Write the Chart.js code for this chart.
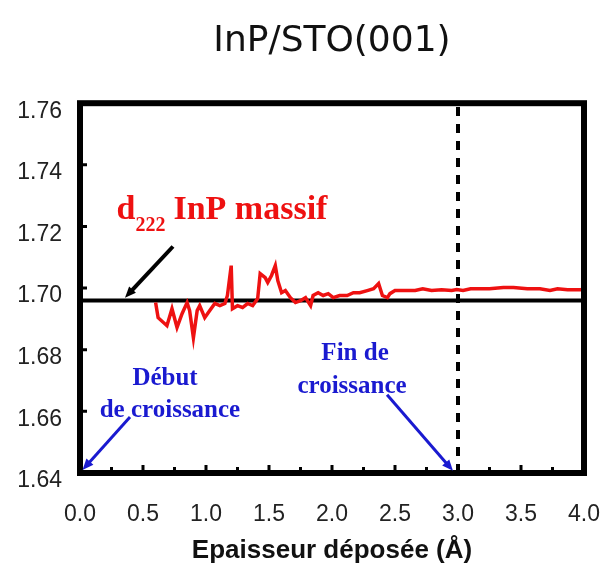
<!DOCTYPE html>
<html>
<head>
<meta charset="utf-8">
<script src="https://cdn.jsdelivr.net/npm/chart.js@4"></script>
<style>
  html, body { margin: 0; padding: 0; background: #fff; }
  #wrap { width: 608px; height: 569px; }
</style>
</head>
<body>
<div id="wrap"><canvas id="dChart" width="608" height="569"></canvas></div>
<script>
const thickness = [0.60, 0.62, 0.69, 0.73, 0.77, 0.81, 0.85, 0.87, 0.90, 0.93, 0.95, 0.99,
  1.03, 1.07, 1.11, 1.15, 1.17, 1.20, 1.21, 1.25, 1.29, 1.33, 1.37, 1.41, 1.43, 1.47, 1.49,
  1.52, 1.55, 1.57, 1.60, 1.63, 1.67, 1.71, 1.75, 1.79, 1.83, 1.85, 1.89, 1.93, 1.97, 2.01,
  2.06, 2.12, 2.17, 2.22, 2.28, 2.33, 2.37, 2.40, 2.44, 2.46, 2.50, 2.58, 2.66, 2.72, 2.79,
  2.87, 2.95, 2.99, 3.04, 3.10, 3.17, 3.25, 3.36, 3.44, 3.55, 3.65, 3.73, 3.79, 3.87, 3.97, 4.00];
const d222 = [1.6953, 1.6904, 1.6878, 1.6933, 1.6872, 1.6917, 1.6953, 1.6927, 1.6839, 1.6927, 1.6943, 1.6904,
  1.6927, 1.6950, 1.6943, 1.6950, 1.6976, 1.7073, 1.6933, 1.6943, 1.6937, 1.6950, 1.6943, 1.6966, 1.7047, 1.7034, 1.7018,
  1.7041, 1.7073, 1.7024, 1.6985, 1.6992, 1.6969, 1.6953, 1.6959, 1.6969, 1.6943, 1.6976, 1.6985, 1.6976, 1.6982, 1.6969,
  1.6976, 1.6976, 1.6985, 1.6985, 1.6992, 1.6998, 1.7015, 1.6976, 1.6969, 1.6982, 1.6992, 1.6992, 1.6992, 1.6998, 1.6992,
  1.6995, 1.6992, 1.6995, 1.6992, 1.6998, 1.6998, 1.6998, 1.7002, 1.7002, 1.6998, 1.6998, 1.6992, 1.6998, 1.6995, 1.6995, 1.6996];

// bulk InP reference and end of growth
const bulkX = [0, 4];
const bulkD = [1.696, 1.696];
const endX = [3, 3];
const endD = [1.64, 1.76];

// tick labels
const xTicks = ["0.0", "0.5", "1.0", "1.5", "2.0", "2.5", "3.0", "3.5", "4.0"];
const yTicks = ["1.64", "1.66", "1.68", "1.70", "1.72", "1.74", "1.76"];

const RED = "#ee1111";
const BLUE = "#1a1ad0";

function toPoints(xs, ys) {
  return xs.map((x, i) => ({ x: x, y: ys[i] }));
}

function arrow(ctx, x1, y1, x2, y2, color, w) {
  const ang = Math.atan2(y2 - y1, x2 - x1);
  const head = 12;
  ctx.save();
  ctx.strokeStyle = color;
  ctx.fillStyle = color;
  ctx.lineWidth = w;
  ctx.beginPath();
  ctx.moveTo(x1, y1);
  ctx.lineTo(x2 - Math.cos(ang) * head * 0.7, y2 - Math.sin(ang) * head * 0.7);
  ctx.stroke();
  ctx.beginPath();
  ctx.moveTo(x2, y2);
  ctx.lineTo(x2 - head * Math.cos(ang - 0.4), y2 - head * Math.sin(ang - 0.4));
  ctx.lineTo(x2 - head * Math.cos(ang + 0.4), y2 - head * Math.sin(ang + 0.4));
  ctx.closePath();
  ctx.fill();
  ctx.restore();
}

// thick frame, inner tick marks and the text annotations
const decor = {
  id: "decor",
  afterDatasetsDraw(c) {
    const ctx = c.ctx;
    const a = c.chartArea;
    const sx = c.scales.x, sy = c.scales.y;
    const X = v => sx.getPixelForValue(v);
    const Y = v => sy.getPixelForValue(v);

    ctx.save();
    ctx.strokeStyle = "#000";
    ctx.lineWidth = 6;
    ctx.strokeRect(a.left, a.top, a.right - a.left, a.bottom - a.top);

    ctx.lineWidth = 3;
    ctx.beginPath();
    for (let v = 0.25; v < 4; v += 0.25) {
      const len = Math.abs(v * 2 - Math.round(v * 2)) < 0.01 ? 8 : 6;
      ctx.moveTo(X(v), a.bottom);
      ctx.lineTo(X(v), a.bottom - len);
    }
    for (let i = 1; i < yTicks.length - 1; i++) {
      const v = parseFloat(yTicks[i]);
      ctx.moveTo(a.left, Y(v));
      ctx.lineTo(a.left + 7, Y(v));
    }
    ctx.stroke();

    // d222 InP massif
    ctx.fillStyle = RED;
    ctx.textBaseline = "alphabetic";
    ctx.textAlign = "left";
    ctx.font = "bold 34px 'Liberation Serif', 'Times New Roman', serif";
    let x0 = X(0.29), y0 = Y(1.7223);
    ctx.fillText("d", x0, y0);
    x0 += ctx.measureText("d").width;
    ctx.font = "bold 20px 'Liberation Serif', 'Times New Roman', serif";
    ctx.fillText("222", x0, y0 + 12);
    x0 += ctx.measureText("222").width + 8;
    ctx.font = "bold 34px 'Liberation Serif', 'Times New Roman', serif";
    ctx.fillText("InP massif", x0, y0);

    arrow(ctx, X(0.738), Y(1.7135), X(0.357), Y(1.6969), "#000", 4);

    // growth start / end labels
    ctx.fillStyle = BLUE;
    ctx.textAlign = "center";
    ctx.font = "bold 25px 'Liberation Serif', 'Times New Roman', serif";
    ctx.fillText("Début", X(0.675), Y(1.6686));
    ctx.fillText("de croissance", X(0.714), Y(1.6582));
    ctx.fillText("Fin de", X(2.183), Y(1.6767));
    ctx.fillText("croissance", X(2.159), Y(1.666));

    arrow(ctx, X(0.397), Y(1.6582), X(0.02), Y(1.641), BLUE, 3);
    arrow(ctx, X(2.437), Y(1.6654), X(2.96), Y(1.6407), BLUE, 3);
    ctx.restore();
  }
};

const tickFont = { family: "Arial, 'Liberation Sans', sans-serif", size: 23 };

let chart = new Chart(document.getElementById("dChart").getContext("2d"), {
  type: "line",
  data: {
    datasets: [
      {
        data: toPoints(thickness, d222),
        borderColor: RED,
        borderWidth: 3.5,
        pointRadius: 0,
        tension: 0
      },
      {
        data: toPoints(bulkX, bulkD),
        borderColor: "#000",
        borderWidth: 4,
        pointRadius: 0
      },
      {
        data: toPoints(endX, endD),
        borderColor: "#000",
        borderWidth: 4,
        borderDash: [9, 8],
        pointRadius: 0
      }
    ]
  },
  options: {
    responsive: false,
    animation: false,
    events: [],
    layout: { padding: { left: 0, right: 24, top: 0, bottom: 3 } },
    plugins: {
      legend: { display: false },
      tooltip: { enabled: false },
      title: {
        display: true,
        fullSize: false,
        text: "InP/STO(001)",
        color: "#111",
        font: { family: "'DejaVu Sans', Verdana, sans-serif", size: 36, weight: "normal" },
        padding: { top: 20, bottom: 40 }
      }
    },
    scales: {
      x: {
        type: "linear",
        min: 0,
        max: 4,
        grid: { display: false, drawTicks: false },
        border: { display: false },
        afterFit: s => { s.height = 93; s.paddingLeft = 0; s.paddingRight = 0; },
        ticks: {
          stepSize: 0.5,
          padding: 28,
          color: "#222",
          font: tickFont,
          callback: (v, i) => xTicks[i]
        },
        title: {
          display: true,
          text: "Epaisseur déposée (Å)",
          color: "#111",
          font: { family: "Arial, 'Liberation Sans', sans-serif", size: 26, weight: "bold" },
          padding: { top: 6, bottom: 0 }
        }
      },
      y: {
        min: 1.64,
        max: 1.76,
        grid: { display: false, drawTicks: false },
        border: { display: false },
        afterFit: s => { s.width = 80; s.paddingTop = 0; s.paddingBottom = 0; },
        ticks: {
          stepSize: 0.02,
          padding: 18,
          labelOffset: 8,
          color: "#222",
          font: tickFont,
          callback: (v, i) => yTicks[i]
        }
      }
    }
  },
  plugins: [decor]
});
</script>
</body>
</html>
